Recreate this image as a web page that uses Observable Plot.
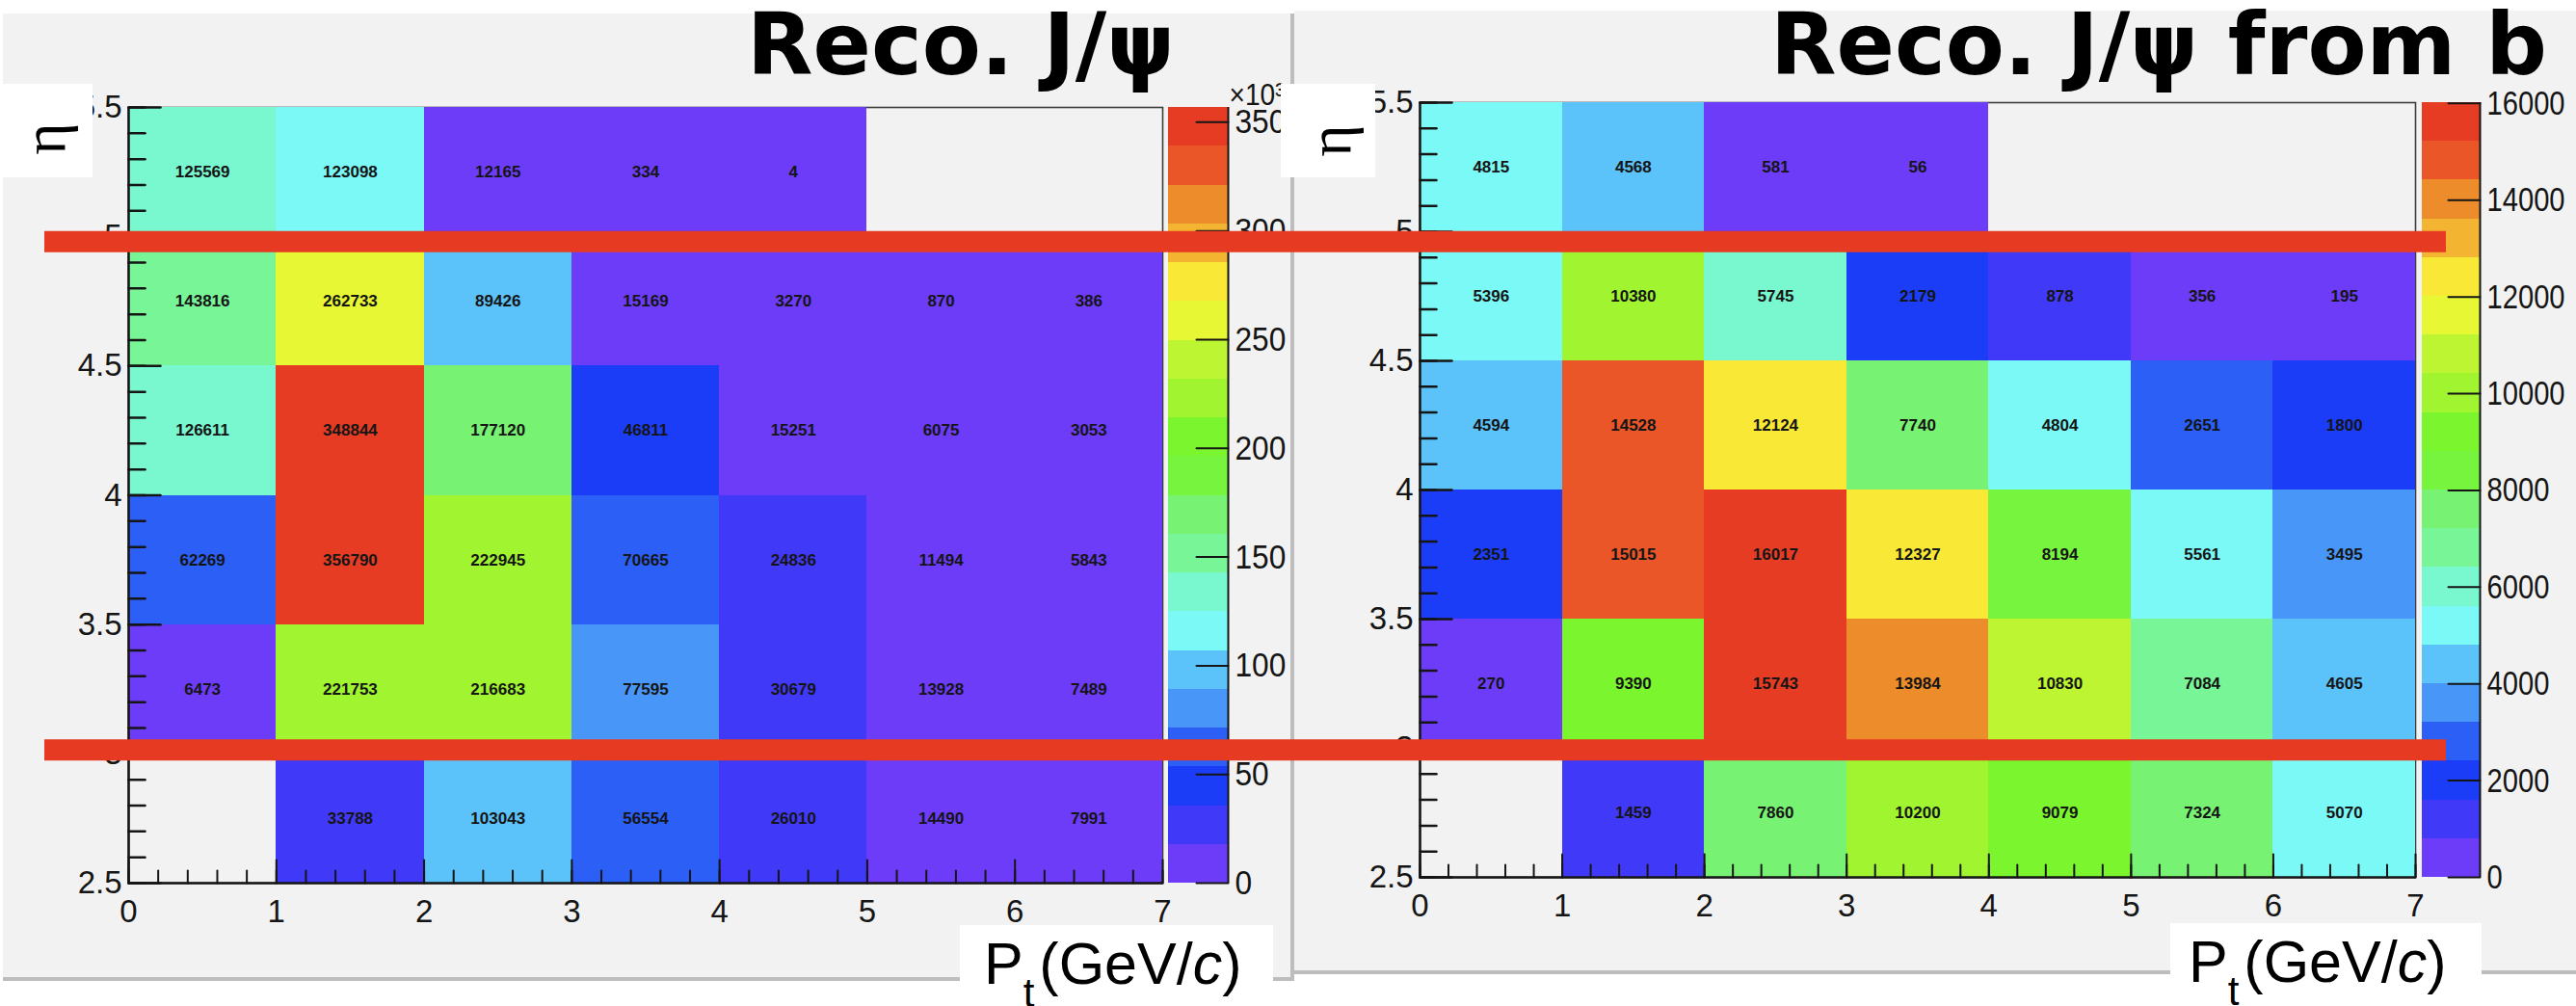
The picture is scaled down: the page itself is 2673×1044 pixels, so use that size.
<!DOCTYPE html>
<html>
<head>
<meta charset="utf-8">
<script src="https://cdn.jsdelivr.net/npm/d3@7"></script>
<script src="https://cdn.jsdelivr.net/npm/@observablehq/plot@0.6"></script>
<style>
  html, body { margin: 0; padding: 0; background: #fff; }
  #chart { position: relative; width: 2673px; height: 1044px; overflow: hidden; background: #fff; }
  .pad { position: absolute; background: #f2f2f2; box-sizing: content-box; }
  #chart svg { position: absolute; overflow: visible; }
</style>
</head>
<body>
<div id="chart"></div>
<script>
// Bin edges of the 2-D histograms
const ptEdges = [0, 1, 2, 3, 4, 5, 6, 7];          // P_t (GeV/c)
const etaEdges = [2.5, 3, 3.5, 4, 4.5, 5, 5.5];    // eta

// Bin contents, one row per eta bin (lowest eta first), one entry per P_t bin; null = empty bin
const recoJpsi = [
  [null, 33788, 103043, 56554, 26010, 14490, 7991],
  [6473, 221753, 216683, 77595, 30679, 13928, 7489],
  [62269, 356790, 222945, 70665, 24836, 11494, 5843],
  [126611, 348844, 177120, 46811, 15251, 6075, 3053],
  [143816, 262733, 89426, 15169, 3270, 870, 386],
  [125569, 123098, 12165, 334, 4, null, null]
];
const recoJpsiFromB = [
  [null, 1459, 7860, 10200, 9079, 7324, 5070],
  [270, 9390, 15743, 13984, 10830, 7084, 4605],
  [2351, 15015, 16017, 12327, 8194, 5561, 3495],
  [4594, 14528, 12124, 7740, 4804, 2651, 1800],
  [5396, 10380, 5745, 2179, 878, 356, 195],
  [4815, 4568, 581, 56, null, null, null]
];

// Axis ticks and labels
const etaTicks = [2.5, 3, 3.5, 4, 4.5, 5, 5.5];
const ptTicks = [0, 1, 2, 3, 4, 5, 6, 7];
const recoZTicks = [0, 50000, 100000, 150000, 200000, 250000, 300000, 350000];
const fromBZTicks = [0, 2000, 4000, 6000, 8000, 10000, 12000, 14000, 16000];

// 20-level violet -> red palette (one colour per contour band)
const palette = [
  "#6d3cf9", "#4139f8", "#1b3df8", "#2b5ff6", "#4897f8",
  "#5cc3fa", "#7af9f6", "#79f8d0", "#78f597", "#78f272",
  "#77f53e", "#7bf52d", "#a0f530", "#bdf532", "#e8f733",
  "#f9e835", "#f2b431", "#ed8c2b", "#ea5628", "#e73c24"
];

const W = 2673, H = 1044;
const SANS = '"Liberation Sans", Arial, Helvetica, sans-serif';
const INK = "#151515";
const MARKER = "#e63b22";
const chart = document.getElementById("chart");

// a straight tick drawn from the anchor point along the vector direction
const tickShape = {draw(context, l) { context.moveTo(0, 0); context.lineTo(0, -l); }};

function cellsOf(grid) {
  const out = [];
  grid.forEach((row, r) => row.forEach((n, c) => {
    if (n != null) out.push({pt1: ptEdges[c], pt2: ptEdges[c + 1], eta1: etaEdges[r], eta2: etaEdges[r + 1], n});
  }));
  return out;
}

// contour bands from 0 to the maximum; the 0.01 slack follows the COLZ painter's rounding
function colorScale(zmax) {
  const k = palette.length;
  return {type: "threshold", domain: d3.range(1, k).map(i => (i - 0.01) * zmax / k), range: palette};
}

function place(node, left, top) {
  node.style.left = left + "px";
  node.style.top = top + "px";
  chart.appendChild(node);
  return node;
}

function addPad(left, top, width, height, borders) {
  const d = document.createElement("div");
  d.className = "pad";
  Object.assign(d.style, {left: left + "px", top: top + "px", width: width + "px", height: height + "px"}, borders);
  chart.appendChild(d);
}

function heatmap(grid, {width, marginLeft, marginRight, marginTop, marginBottom}) {
  const data = cellsOf(grid);
  const zmax = d3.max(data, d => d.n);
  const minorEta = d3.ticks(2.5, 5.5, 30);
  const minorPt = d3.ticks(0, 7, 35);
  return Plot.plot({
    width, height: H, marginLeft, marginRight, marginTop, marginBottom,
    style: {background: "transparent", fontFamily: SANS, fontSize: "33px", color: INK, overflow: "visible"},
    x: {domain: [0, 7], axis: null},
    y: {domain: [2.5, 5.5], axis: null},
    color: colorScale(zmax),
    marks: [
      Plot.frame({stroke: "#3c3c3c", strokeWidth: 1.6}),
      Plot.rect(data, {x1: "pt1", x2: "pt2", y1: "eta1", y2: "eta2", fill: "n", shapeRendering: "crispEdges"}),
      Plot.text(data, {
        x: d => (d.pt1 + d.pt2) / 2, y: d => (d.eta1 + d.eta2) / 2,
        text: d => String(d.n), fontSize: 17, fontWeight: "bold", fill: INK
      }),
      Plot.ruleX([0], {stroke: INK, strokeWidth: 2.5}),
      Plot.ruleY([2.5], {stroke: INK, strokeWidth: 2.5}),
      // inward ticks on the eta axis
      Plot.vector(minorEta, {x: 0, y: d => d, length: 17, rotate: 90, anchor: "start", shape: tickShape, stroke: INK, strokeWidth: 2.5}),
      Plot.vector(etaTicks, {x: 0, y: d => d, length: 33, rotate: 90, anchor: "start", shape: tickShape, stroke: INK, strokeWidth: 2.5}),
      // inward ticks on the P_t axis
      Plot.vector(minorPt, {x: d => d, y: 2.5, length: 13, rotate: 0, anchor: "start", shape: tickShape, stroke: INK, strokeWidth: 2}),
      Plot.vector(ptTicks, {x: d => d, y: 2.5, length: 24, rotate: 0, anchor: "start", shape: tickShape, stroke: INK, strokeWidth: 2}),
      Plot.axisY(etaTicks, {tickSize: 0, tickPadding: 7, label: null, tickFormat: d => String(d), fontSize: 33}),
      Plot.axisX(ptTicks, {tickSize: 0, tickPadding: 17, label: null, tickFormat: d => String(d), fontSize: 33})
    ]
  });
}

function colorbar(grid, ticks, tickFormat, exponent, narrow, {width, marginLeft, marginRight, marginTop, marginBottom}) {
  const zmax = d3.max(cellsOf(grid), d => d.n);
  const k = palette.length;
  const bands = d3.range(k).map(i => ({lo: i * zmax / k, hi: (i + 1) * zmax / k}));
  const marks = [
    Plot.rect(bands, {x1: 0, x2: 1, y1: "lo", y2: "hi", fill: d => (d.lo + d.hi) / 2, shapeRendering: "crispEdges"}),
    Plot.ruleX([1], {stroke: INK, strokeWidth: 2}),
    Plot.vector(ticks, {x: 1, y: d => d, length: 33, rotate: 270, anchor: "start", shape: tickShape, stroke: INK, strokeWidth: 2}),
    Plot.axisY(ticks, {anchor: "right", tickSize: 0, tickPadding: 7, label: null, tickFormat, fontSize: 36})
  ];
  if (exponent) marks.push(Plot.text([exponent], {
    frameAnchor: "top-right", text: d => d, textAnchor: "start", lineAnchor: "bottom", dx: 1, dy: -3, fontSize: 32
  }));
  const svg = Plot.plot({
    width, height: H, marginLeft, marginRight, marginTop, marginBottom,
    style: {background: "transparent", fontFamily: SANS, fontSize: "36px", color: INK, overflow: "visible"},
    x: {domain: [0, 1], axis: null},
    y: {domain: [0, zmax], axis: null},
    color: colorScale(zmax),
    marks
  });
  // palette labels are set in a narrower face
  d3.select(svg).selectAll("text").each(function() {
    const t = this.getAttribute("transform") || "";
    this.setAttribute("transform", `${t} scale(${narrow} 1)`);
  });
  return svg;
}

// Pads
addPad(3, 14, 1336, 1000, {borderRight: "4px solid #bdbdbd", borderBottom: "4px solid #bdbdbd"});
addPad(1343, 11, 1330, 996, {borderBottom: "4px solid #bdbdbd"});

// Left: all reconstructed J/psi
place(heatmap(recoJpsi, {width: 1340, marginLeft: 133, marginRight: 134, marginTop: 111, marginBottom: 128}), 0, 0);
place(colorbar(recoJpsi, recoZTicks, d => String(d / 1000), "×10³", 0.88,
  {width: 140, marginLeft: 12, marginRight: 66, marginTop: 111, marginBottom: 128}), 1200, 0);

// Right: reconstructed J/psi from b decays
place(heatmap(recoJpsiFromB, {width: 1333, marginLeft: 133, marginRight: 167, marginTop: 106, marginBottom: 134}), 1340, 0);
place(colorbar(recoJpsiFromB, fromBZTicks, d => String(d), null, 0.81,
  {width: 173, marginLeft: 13, marginRight: 100, marginTop: 106, marginBottom: 134}), 2500, 0);

// Titles and axis titles
const labels = d3.create("svg").attr("width", W).attr("height", H);
labels.append("g").attr("fill", "#000").attr("font-family", '"DejaVu Sans", Verdana, sans-serif')
  .attr("font-weight", "bold").attr("font-size", 89)
  .selectAll("text")
  .data([{x: 775, text: "Reco. J/ψ"}, {x: 1837, text: "Reco. J/ψ from b"}])
  .join("text").attr("x", d => d.x).attr("y", 77).text(d => d.text);

function etaTitle(box) {
  labels.append("rect").attr("x", box.x).attr("y", box.y).attr("width", box.w).attr("height", box.h).attr("fill", "#fff");
  labels.append("text")
    .attr("transform", `translate(${box.cx + 7},${box.cy}) rotate(-90)`)
    .attr("text-anchor", "middle").attr("font-family", '"Liberation Serif", "Times New Roman", serif')
    .attr("font-size", 64).attr("fill", "#000").text("η");
}
etaTitle({x: 3, y: 87, w: 93, h: 97, cx: 60, cy: 144});
etaTitle({x: 1329, y: 87, w: 98, h: 97, cx: 1394, cy: 146});

function ptTitle(box, x, y) {
  labels.append("rect").attr("x", box.x).attr("y", box.y).attr("width", box.w).attr("height", box.h).attr("fill", "#fff");
  const t = labels.append("text").attr("x", x).attr("y", y)
    .attr("font-family", SANS).attr("font-size", 61).attr("fill", "#000");
  t.append("tspan").text("P");
  t.append("tspan").attr("font-size", 42).attr("dy", 24).text("t");
  t.append("tspan").attr("dy", -24).attr("dx", 5).text("(GeV/");
  t.append("tspan").attr("font-style", "italic").text("c");
  t.append("tspan").text(")");
}
ptTitle({x: 996, y: 960, w: 325, h: 84}, 1021, 1021);
ptTitle({x: 2252, y: 958, w: 323, h: 86}, 2271, 1019);
place(labels.node(), 0, 0);

// Highlight of the 3 < eta < 5 range, laid on the eta scale of the left panel
const highlight = Plot.plot({
  width: W, height: H, marginTop: 111, marginBottom: 128, marginLeft: 46, marginRight: W - 2538,
  style: {background: "transparent", overflow: "visible"},
  x: {domain: [0, 1], axis: null},
  y: {domain: [2.5, 5.5], axis: null},
  marks: [
    Plot.ruleY([5], {stroke: MARKER, strokeWidth: 22, dy: 5}),
    Plot.ruleY([3], {stroke: MARKER, strokeWidth: 22, dy: -4})
  ]
});
place(highlight, 0, 0);
</script>
</body>
</html>
